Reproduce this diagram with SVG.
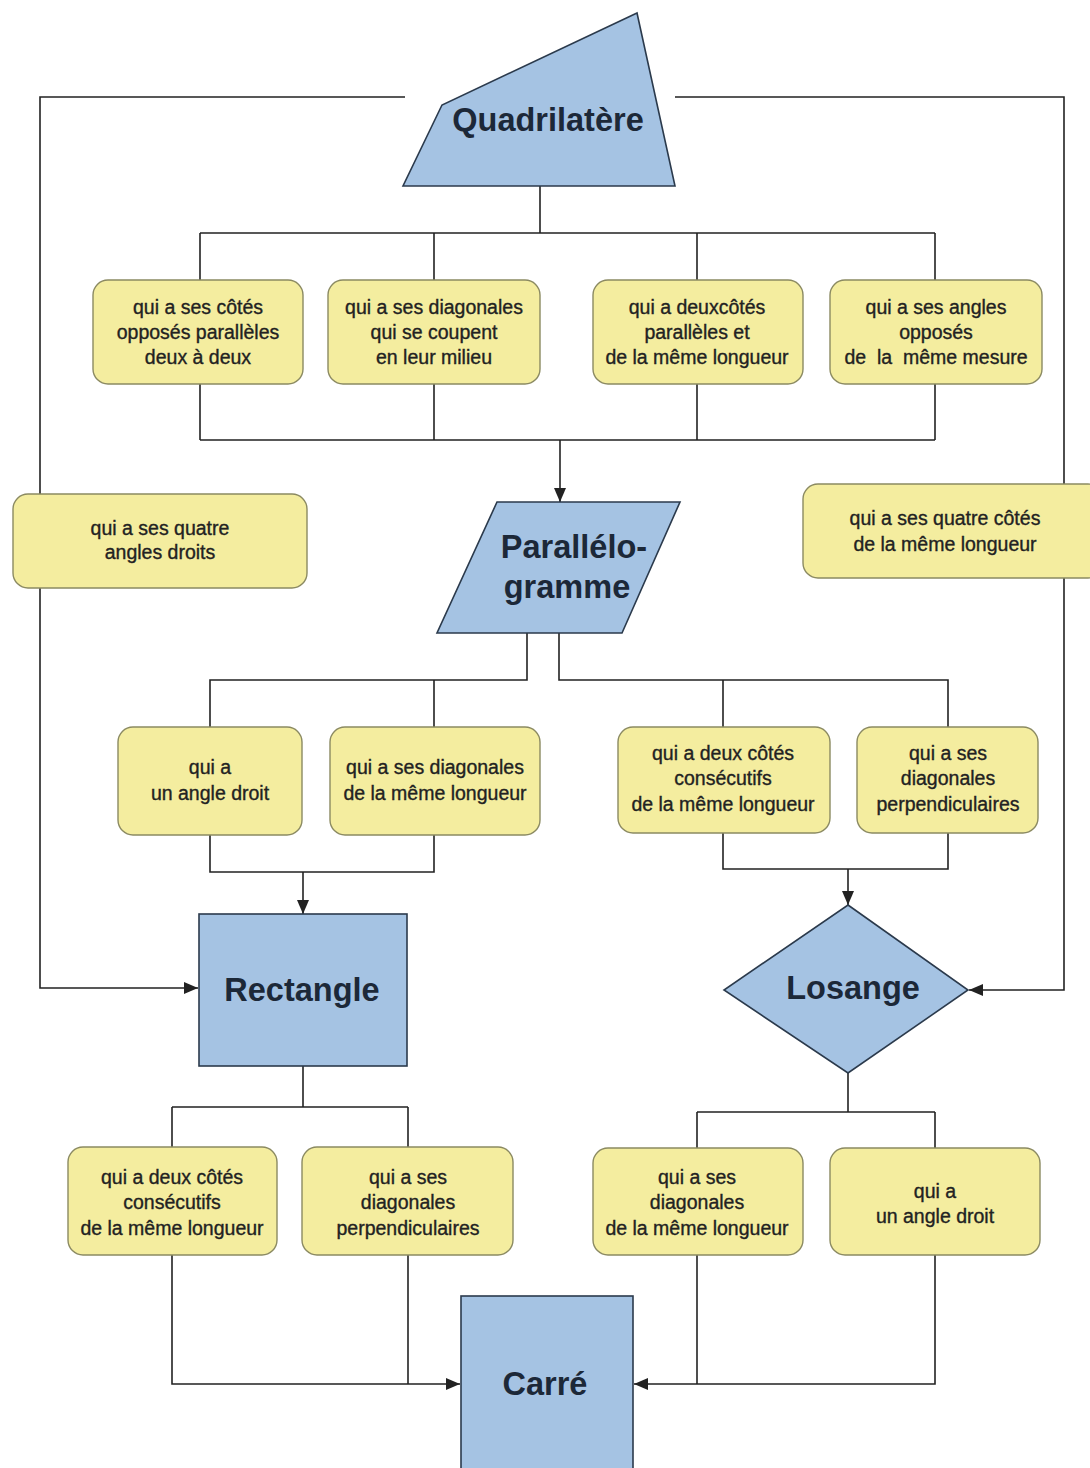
<svg xmlns="http://www.w3.org/2000/svg" width="1090" height="1468" viewBox="0 0 1090 1468">
<style>
.bg{fill:#ffffff}
.ln{fill:none;stroke:#222;stroke-width:1.6}
.shape{fill:#a5c3e3;stroke:#2b3a4c;stroke-width:1.6}
.box{fill:#f4ed9f;stroke:#8b8a62;stroke-width:1.4}
.t{font-family:"Liberation Sans",Arial,sans-serif;font-size:19.5px;fill:#222;stroke:#222;stroke-width:0.35;text-anchor:middle;white-space:pre}
.h{font-family:"Liberation Sans",Arial,sans-serif;font-size:32.5px;font-weight:bold;fill:#1c2838;text-anchor:middle}
</style>
<defs>
<marker id="ah" viewBox="0 0 14 12" refX="14" refY="6" markerWidth="14" markerHeight="12" markerUnits="userSpaceOnUse" orient="auto">
<path d="M0,0 L14,6 L0,12 Z" fill="#222"/>
</marker>
</defs>
<rect class="bg" x="0" y="0" width="1090" height="1468"/>
<g id="connectors">
<path class="ln" d="M405,97 H40 V988 H198" marker-end="url(#ah)"/>
<path class="ln" d="M675,97 H1064 V990 H969" marker-end="url(#ah)"/>
<path class="ln" d="M540,186 V233 M200,233 H935 M200,233 V281 M434,233 V281 M697,233 V281 M935,233 V281"/>
<path class="ln" d="M200,384 V440 M434,384 V440 M697,384 V440 M935,384 V440 M200,440 H935"/>
<path class="ln" d="M560,440 V502" marker-end="url(#ah)"/>
<path class="ln" d="M527,633 V680 H210 V727 M434,680 V727"/>
<path class="ln" d="M559,633 V680 H948 V727 M723,680 V727"/>
<path class="ln" d="M210,835 V872 H434 V835"/>
<path class="ln" d="M303,872 V914" marker-end="url(#ah)"/>
<path class="ln" d="M723,833 V869 H948 V833"/>
<path class="ln" d="M848,869 V905" marker-end="url(#ah)"/>
<path class="ln" d="M303,1066 V1107 M172,1107 H408 M172,1107 V1147 M408,1107 V1147"/>
<path class="ln" d="M848,1073 V1112 M697,1112 H935 M697,1112 V1148 M935,1112 V1148"/>
<path class="ln" d="M172,1255 V1384 H460" marker-end="url(#ah)"/>
<path class="ln" d="M408,1255 V1384"/>
<path class="ln" d="M935,1255 V1384 H634" marker-end="url(#ah)"/>
<path class="ln" d="M697,1255 V1384"/>
</g>
<g id="quadrilatere">
<polygon class="shape" points="637,13 442,105 403,186 675,186"/>
<text class="h" x="548" y="131">Quadrilatère</text>
</g>
<g id="c1">
<rect class="box" x="93" y="280" width="210" height="104" rx="15"/>
<text class="t" x="198" y="314">qui a ses côtés</text>
<text class="t" x="198" y="339">opposés parallèles</text>
<text class="t" x="198" y="364">deux à deux</text>
</g>
<g id="c2">
<rect class="box" x="328" y="280" width="212" height="104" rx="15"/>
<text class="t" x="434" y="314">qui a ses diagonales</text>
<text class="t" x="434" y="339">qui se coupent</text>
<text class="t" x="434" y="364">en leur milieu</text>
</g>
<g id="c3">
<rect class="box" x="593" y="280" width="210" height="104" rx="15"/>
<text class="t" x="697" y="314">qui a deuxcôtés</text>
<text class="t" x="697" y="339">parallèles et</text>
<text class="t" x="697" y="364">de la même longueur</text>
</g>
<g id="c4">
<rect class="box" x="830" y="280" width="212" height="104" rx="15"/>
<text class="t" x="936" y="314">qui a ses angles</text>
<text class="t" x="936" y="339">opposés</text>
<text class="t" x="936" y="364">de  la  même mesure</text>
</g>
<g id="side-left">
<rect class="box" x="13" y="494" width="294" height="94" rx="15"/>
<text class="t" x="160" y="535">qui a ses quatre</text>
<text class="t" x="160" y="559">angles droits</text>
</g>
<g id="side-right">
<rect class="box" x="803" y="484" width="300" height="94" rx="15"/>
<text class="t" x="945" y="525">qui a ses quatre côtés</text>
<text class="t" x="945" y="551">de la même longueur</text>
</g>
<g id="parallelogramme">
<polygon class="shape" points="497,502 680,502 622,633 437,633"/>
<text class="h" x="574" y="558">Parallélo-</text>
<text class="h" x="567" y="598">gramme</text>
</g>
<g id="r1">
<rect class="box" x="118" y="727" width="184" height="108" rx="15"/>
<text class="t" x="210" y="774">qui a</text>
<text class="t" x="210" y="800">un angle droit</text>
</g>
<g id="r2">
<rect class="box" x="330" y="727" width="210" height="108" rx="15"/>
<text class="t" x="435" y="774">qui a ses diagonales</text>
<text class="t" x="435" y="800">de la même longueur</text>
</g>
<g id="l1">
<rect class="box" x="618" y="727" width="212" height="106" rx="15"/>
<text class="t" x="723" y="760">qui a deux côtés</text>
<text class="t" x="723" y="785">consécutifs</text>
<text class="t" x="723" y="811">de la même longueur</text>
</g>
<g id="l2">
<rect class="box" x="857" y="727" width="181" height="106" rx="15"/>
<text class="t" x="948" y="760">qui a ses</text>
<text class="t" x="948" y="785">diagonales</text>
<text class="t" x="948" y="811">perpendiculaires</text>
</g>
<g id="rectangle">
<rect class="shape" x="199" y="914" width="208" height="152"/>
<text class="h" x="302" y="1001">Rectangle</text>
</g>
<g id="losange">
<polygon class="shape" points="848,905 968,990 848,1073 724,990"/>
<text class="h" x="853" y="999">Losange</text>
</g>
<g id="s1">
<rect class="box" x="68" y="1147" width="209" height="108" rx="15"/>
<text class="t" x="172" y="1184">qui a deux côtés</text>
<text class="t" x="172" y="1209">consécutifs</text>
<text class="t" x="172" y="1235">de la même longueur</text>
</g>
<g id="s2">
<rect class="box" x="302" y="1147" width="211" height="108" rx="15"/>
<text class="t" x="408" y="1184">qui a ses</text>
<text class="t" x="408" y="1209">diagonales</text>
<text class="t" x="408" y="1235">perpendiculaires</text>
</g>
<g id="s3">
<rect class="box" x="593" y="1148" width="210" height="107" rx="15"/>
<text class="t" x="697" y="1184">qui a ses</text>
<text class="t" x="697" y="1209">diagonales</text>
<text class="t" x="697" y="1235">de la même longueur</text>
</g>
<g id="s4">
<rect class="box" x="830" y="1148" width="210" height="107" rx="15"/>
<text class="t" x="935" y="1198">qui a</text>
<text class="t" x="935" y="1223">un angle droit</text>
</g>
<g id="carre">
<rect class="shape" x="461" y="1296" width="172" height="180"/>
<text class="h" x="545" y="1395">Carré</text>
</g>
</svg>
